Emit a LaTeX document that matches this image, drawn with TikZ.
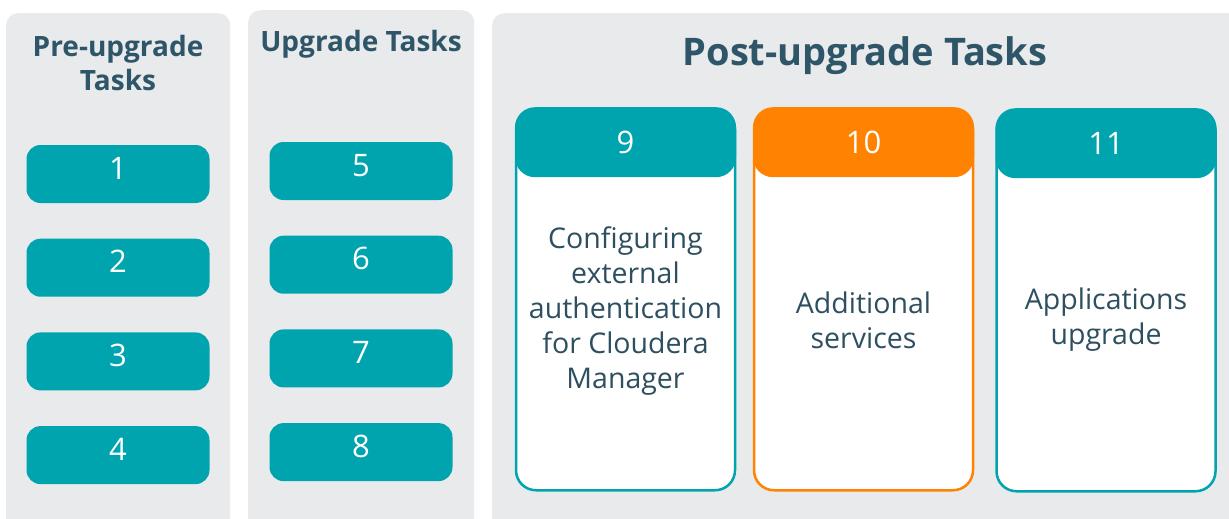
\documentclass[tikz,border=0pt]{standalone}
\usepackage{fontspec}
\setmainfont{Open Sans}
\usetikzlibrary{positioning}
\definecolor{panelgray}{HTML}{E9EAEC}
\definecolor{cldteal}{HTML}{00A4AF}
\definecolor{cldorange}{HTML}{FF8300}
\definecolor{titleblue}{HTML}{2E5668}
\definecolor{textblue}{HTML}{2E4F5F}
\tikzstyle{panel} = [rectangle, rounded corners=12pt, fill=panelgray, anchor=north west, inner sep=0pt]
\tikzstyle{task} = [rectangle, rounded corners=14pt, minimum width=183pt, minimum height=58pt, text depth=12pt, fill=cldteal, text=white, font=\fontsize{31}{31}\selectfont]
\tikzstyle{cardbody} = [rectangle, rounded corners=20pt, minimum width=219pt, minimum height=381pt, draw=cldteal, line width=2.5pt, fill=white, anchor=north]
\tikzstyle{cardhead} = [rectangle, rounded corners=20pt, minimum width=221pt, minimum height=70pt, fill=cldteal, text=white, font=\fontsize{31}{31}\selectfont, anchor=north]
\tikzstyle{cardtext} = [align=center, text=textblue, font=\fontsize{28.5}{35}\selectfont]
\tikzstyle{title} = [align=center, text=titleblue, font=\bfseries\fontsize{28}{34}\selectfont]

\begin{document}
\begin{tikzpicture}[x=1pt, y=-1pt, node distance=93.7pt]
			\useasboundingbox (0,0) rectangle (1229,519);
			\clip (0,0) rectangle (1229,519);
			% columns
			\node (pre) [panel, minimum width=224pt, minimum height=540pt] at (6,13) {};
			\node (upg) [panel, minimum width=226pt, minimum height=540pt] at (248,10) {};
			\node (post) [panel, minimum width=760pt, minimum height=540pt] at (492,13) {};

			\node (pretitle) [title] at (118,63) {Pre-upgrade\\Tasks};
			\node (upgtitle) [title] at (361,44) {Upgrade Tasks};
			\node (posttitle) [title, font=\bfseries\fontsize{38}{38}\selectfont] at (865,56) {Post-upgrade Tasks};

			% pre-upgrade
			\node (t1) [task] at (118,174) {1};
			\node (t2) [task, below of=t1] {2};
			\node (t3) [task, below of=t2] {3};
			\node (t4) [task, below of=t3] {4};

			% upgrade
			\node (t5) [task] at (361,171) {5};
			\node (t6) [task, below of=t5] {6};
			\node (t7) [task, below of=t6] {7};
			\node (t8) [task, below of=t7] {8};

			% post-upgrade
			\node (c9) [cardbody] at (625.5,108) {};
			\node (h9) [cardhead] at (625.5,107) {9};
			\node (x9) [cardtext] at (625.5,311) {Configuring\\external\\authentication\\for Cloudera\\Manager};

				\node (c10) [cardbody, draw=cldorange] at (863.5,108) {};
			\node (h10) [cardhead, fill=cldorange] at (863.5,107) {10};
			\node (x10) [cardtext] at (863.5,320) {Additional\\services};

			\node (c11) [cardbody] at (1106,109) {};
			\node (h11) [cardhead] at (1106,108) {11};
			\node (x11) [cardtext] at (1106,320) {Applications\\upgrade};
		\end{tikzpicture}
\end{document}
